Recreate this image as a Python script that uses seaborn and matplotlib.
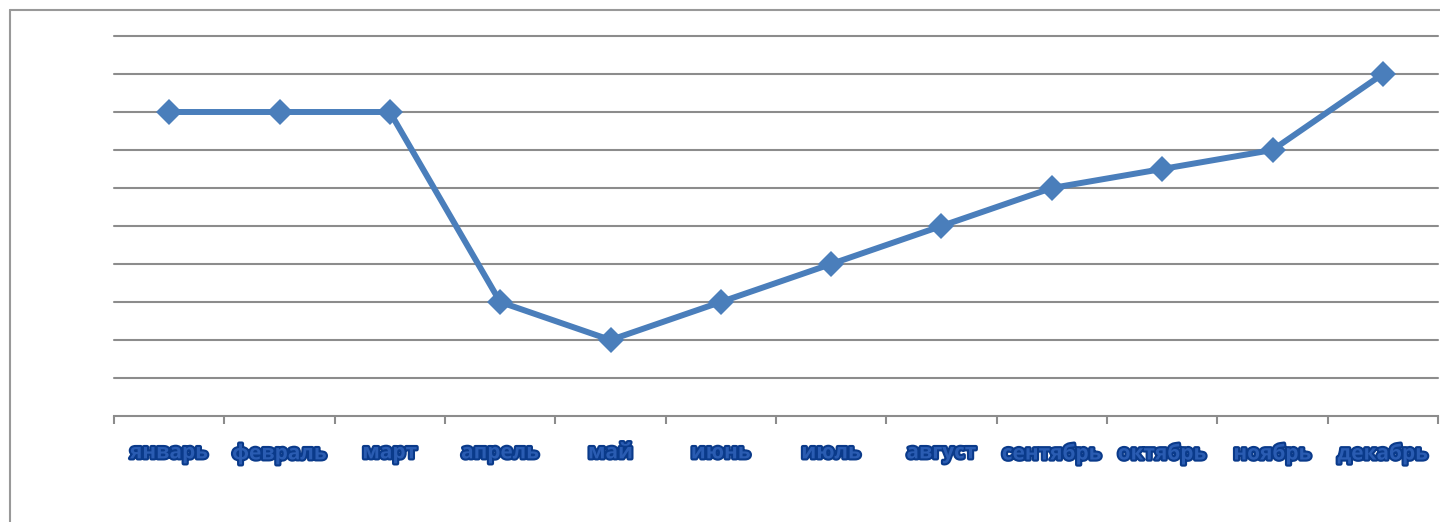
import matplotlib
matplotlib.use("Agg")
import matplotlib.pyplot as plt
import matplotlib.patheffects as pe
from matplotlib.lines import Line2D
import numpy as np
import pandas as pd
import seaborn as sns

months = ['январь', 'февраль', 'март', 'апрель', 'май', 'июнь',
          'июль', 'август', 'сентябрь', 'октябрь', 'ноябрь', 'декабрь']
values = [8, 8, 8, 3, 2, 3, 4, 5, 6, 6.5, 7, 9]

df = pd.DataFrame({'month': months, 'value': values})

sns.set_style('white')
plt.rcParams['font.family'] = ['Open Sans', 'DejaVu Sans']

fig = plt.figure(figsize=(14.4, 5.22), dpi=100)
ax = fig.add_axes([114 / 1440, 1 - 416 / 522, 1324 / 1440, 380 / 522])

sns.lineplot(data=df, x='month', y='value', ax=ax, sort=False,
             color='#4a7ebb', linewidth=4.3, marker='D', markersize=13,
             markeredgewidth=0, zorder=3)

ax.set_xlim(-0.5, len(months) - 0.5)
ax.set_ylim(0, 10)
ax.set_yticks(np.arange(1, 11))
ax.set_yticklabels([])
ax.tick_params(axis='y', length=0)
ax.grid(axis='y', color='#8c8c8c', linewidth=1.5)
ax.grid(axis='x', visible=False)
for gl in ax.get_ygridlines():
    gl.set_clip_on(False)
ax.set_xlabel('')
ax.set_ylabel('')

for side in ['left', 'right', 'top']:
    ax.spines[side].set_visible(False)
ax.spines['bottom'].set_color('#8c8c8c')
ax.spines['bottom'].set_linewidth(1.5)

ax.set_xticks(np.arange(len(months)))
ax.set_xticklabels(months)
ax.set_xticks(np.arange(-0.5, len(months)), minor=True)
ax.tick_params(axis='x', which='both', bottom=True)
ax.tick_params(axis='x', which='major', length=0, pad=19)
ax.tick_params(axis='x', which='minor', length=6, width=1.5, color='#8c8c8c', direction='out')
for lbl in ax.get_xticklabels():
    lbl.set_fontsize(15)
    lbl.set_fontweight('bold')
    lbl.set_color('#2a5cb2')
    lbl.set_path_effects([pe.withStroke(linewidth=3, foreground='#0a3a8a')])

# outer chart frame (top and left edges visible)
fig.add_artist(Line2D([9.5 / 1440, 9.5 / 1440], [0, 1 - 9.5 / 522],
                      transform=fig.transFigure, color='#999999', linewidth=1.5))
fig.add_artist(Line2D([9.5 / 1440, 1], [1 - 9.5 / 522, 1 - 9.5 / 522],
                      transform=fig.transFigure, color='#999999', linewidth=1.5))

fig.savefig('out.png', dpi=100)
